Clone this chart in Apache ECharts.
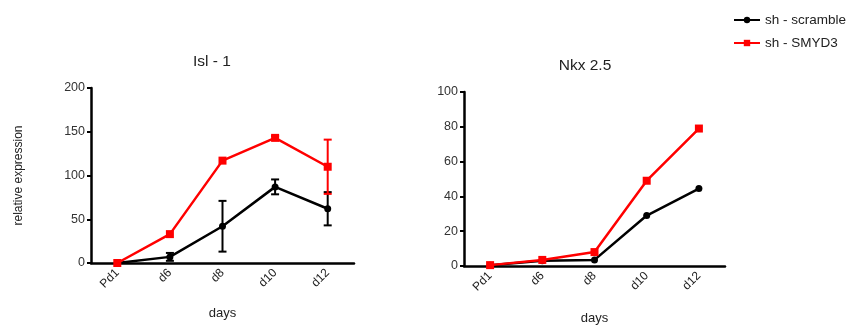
<!DOCTYPE html>
<html>
<head>
<meta charset="utf-8">
<script src="https://cdn.jsdelivr.net/npm/echarts@6/dist/echarts.min.js"></script>
<style>
  html, body { margin: 0; padding: 0; background: #fff; }
  #chart { width: 866px; height: 325px; }
</style>
</head>
<body>
<div id="chart"></div>
<script>
const days = ['Pd1', 'd6', 'd8', 'd10', 'd12'];

// Isl - 1
const islScramble = [0, 7, 42, 87, 62];
const islScrambleErr = [0, 4.5, 29, 8.5, 19];
const islSmyd3 = [0, 33, 117, 143, 110];
const islSmyd3Err = [0, 0, 0, 2, 31];

// Nkx 2.5
const nkxScramble = [0.5, 3, 3.5, 29, 44.5];
const nkxSmyd3 = [0.5, 3.5, 8, 49, 79];

const font = 'Liberation Sans, Arial, sans-serif';
const BLACK = '#000000';
const RED = '#ff0000';

function errorSeries(name, values, errs, color, axisIndex) {
  const data = values.map((v, i) => [i, v - errs[i], v + errs[i]]).filter((d, i) => errs[i] > 0);
  return {
    name: name,
    type: 'custom',
    xAxisIndex: axisIndex,
    yAxisIndex: axisIndex,
    z: 1,
    silent: true,
    renderItem: (params, api) => {
      const lo = api.coord([api.value(0), api.value(1)]);
      const hi = api.coord([api.value(0), api.value(2)]);
      const half = 4;
      const style = { stroke: color, lineWidth: 2 };
      return {
        type: 'group',
        children: [
          { type: 'line', shape: { x1: lo[0], y1: lo[1], x2: hi[0], y2: hi[1] }, style },
          { type: 'line', shape: { x1: lo[0] - half, y1: lo[1], x2: lo[0] + half, y2: lo[1] }, style },
          { type: 'line', shape: { x1: hi[0] - half, y1: hi[1], x2: hi[0] + half, y2: hi[1] }, style }
        ]
      };
    },
    data: data
  };
}

function xAxis(gridIndex, nameGap) {
  return {
    type: 'category',
    gridIndex: gridIndex,
    data: days,
    boundaryGap: true,
    name: 'days',
    nameLocation: 'middle',
    nameGap: nameGap,
    nameTextStyle: { fontFamily: font, fontSize: 13, color: '#222' },
    axisLine: { lineStyle: { color: BLACK, width: 2.5 } },
    axisTick: { alignWithLabel: true, length: 5, lineStyle: { color: BLACK, width: 2.5 } },
    axisLabel: { rotate: 45, fontFamily: font, fontSize: 12, color: '#222', margin: 8 },
    splitLine: { show: false }
  };
}

function yAxis(gridIndex, max, interval, name) {
  return {
    type: 'value',
    gridIndex: gridIndex,
    min: 0,
    max: max,
    interval: interval,
    name: name,
    nameLocation: 'middle',
    nameGap: 66,
    nameTextStyle: { fontFamily: font, fontSize: 12, color: '#222' },
    axisLine: { show: true, lineStyle: { color: BLACK, width: 2.5 } },
    axisTick: { show: true, length: 4, lineStyle: { color: BLACK, width: 2 } },
    axisLabel: { fontFamily: font, fontSize: 12.5, color: '#333', margin: 6 },
    splitLine: { show: false }
  };
}

function lineSeries(name, values, color, symbol, size, axisIndex) {
  return {
    name: name,
    type: 'line',
    xAxisIndex: axisIndex,
    yAxisIndex: axisIndex,
    data: values,
    symbol: symbol,
    symbolSize: size,
    z: 3,
    lineStyle: { color: color, width: 2.5 },
    itemStyle: { color: color },
    emphasis: { disabled: true }
  };
}

const chart = echarts.init(document.getElementById('chart'));

chart.setOption({
  animation: false,
  backgroundColor: '#fff',
  title: [
    { text: 'Isl - 1', left: 207, top: 49, textAlign: 'center',
      textStyle: { fontFamily: font, fontSize: 15.5, fontWeight: 'normal', color: '#222' } },
    { text: 'Nkx 2.5', left: 580, top: 53, textAlign: 'center',
      textStyle: { fontFamily: font, fontSize: 15.5, fontWeight: 'normal', color: '#222' } }
  ],
  legend: {
    data: ['sh - scramble', 'sh - SMYD3'],
    orient: 'vertical',
    left: 728,
    top: 8,
    itemWidth: 26,
    itemHeight: 8,
    itemGap: 9,
    textStyle: { fontFamily: font, fontSize: 13.5, color: '#222' }
  },
  grid: [
    { left: 91, right: 512, top: 88, bottom: 62, outerBoundsMode: 'none' },
    { left: 464, right: 141, top: 92, bottom: 59, outerBoundsMode: 'none' }
  ],
  xAxis: [xAxis(0, 44), xAxis(1, 46)],
  yAxis: [yAxis(0, 200, 50, 'relative expression'), yAxis(1, 100, 20, '')],
  series: [
    errorSeries('err-isl-scramble', islScramble, islScrambleErr, BLACK, 0),
    errorSeries('err-isl-smyd3', islSmyd3, islSmyd3Err, RED, 0),
    lineSeries('sh - scramble', islScramble, BLACK, 'circle', 7, 0),
    lineSeries('sh - SMYD3', islSmyd3, RED, 'rect', 8, 0),
    lineSeries('sh - scramble', nkxScramble, BLACK, 'circle', 7, 1),
    lineSeries('sh - SMYD3', nkxSmyd3, RED, 'rect', 8, 1)
  ]
});
</script>
</body>
</html>
